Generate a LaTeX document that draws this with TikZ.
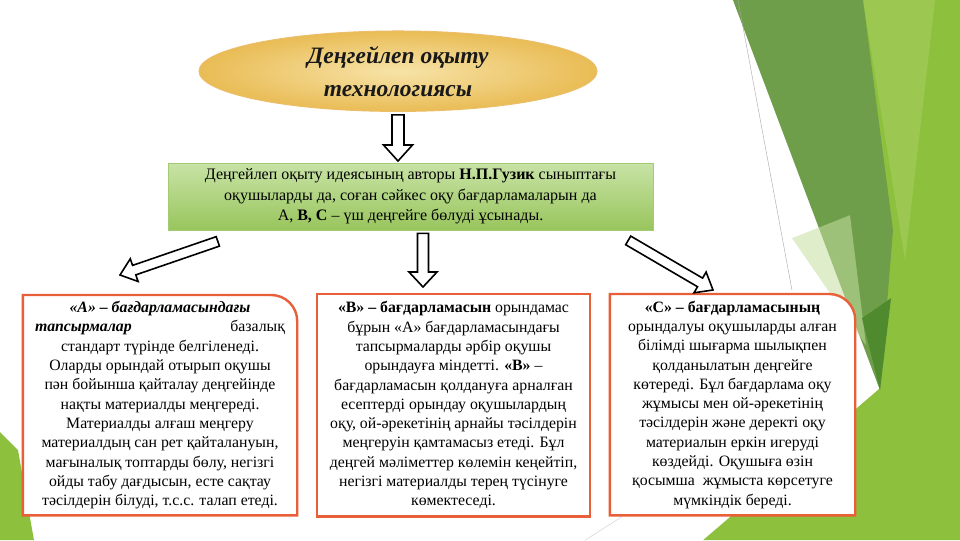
\documentclass[tikz,border=0pt]{standalone}
\usepackage{fontspec}
\setmainfont{Liberation Serif}
\usetikzlibrary{shapes.geometric,calc}

\definecolor{goldin}{HTML}{F7E3A8}
\definecolor{goldout}{HTML}{E9BC55}
\definecolor{goldedge}{HTML}{EDBE6A}
\definecolor{ideatop}{HTML}{C8E3A6}
\definecolor{ideabot}{HTML}{98C55C}
\definecolor{ideaedge}{HTML}{A2CB74}
\definecolor{boxred}{HTML}{E85F38}
\definecolor{bgbright}{HTML}{8DC03C}
\definecolor{bglight}{HTML}{9CC852}
\definecolor{bgmid}{HTML}{6F9E4B}
\definecolor{bgdark}{HTML}{4F8A2E}
\definecolor{bgpale}{HTML}{C6DFA2}

\pgfdeclarelayer{backdrop}
\pgfdeclarelayer{frame}
\pgfsetlayers{backdrop,frame,main}

\newcommand{\hollowarrow}[5]{% tail, tip, shaft half width, head half width, head length
  \coordinate (ha-c) at ($(#2)!#5!(#1)$);
  \draw[blockarrow] ($(#1)!#3!90:(#2)$) -- ($(ha-c)!#3!90:(#2)$) -- ($(ha-c)!#4!90:(#2)$)
    -- (#2) -- ($(ha-c)!#4!-90:(#2)$) -- ($(ha-c)!#3!-90:(#2)$) -- ($(#1)!#3!-90:(#2)$) -- cycle;
}

\begin{document}
\begin{tikzpicture}[x=1pt, y=-1pt,
  blockarrow/.style = {draw=black, line width=1.6pt, fill=white},
  boxline/.style = {draw=boxred, line width=2.4pt, fill=white},
  textbox/.style = {inner sep=0pt, align=center, font=\fontsize{15.8}{19.3}\selectfont}]

  \begin{pgfonlayer}{backdrop}
    \fill[white] (0,0) rectangle (960,540);
    \fill[bgbright] (863,0) -- (960,0) -- (960,540) -- (703,540) -- (880,388) -- cycle;
    \fill[bglight] (863,0) -- (935,0) -- (905,260) -- cycle;
    \fill[bgmid] (733,0) -- (863,0) -- (893,230) -- (880,390) -- cycle;
    \fill[bgpale, opacity=.55] (792,238) -- (850,215) -- (866,345) -- cycle;
    \fill[bgdark] (862,318) -- (891,298) -- (880,390) -- cycle;
    \fill[bgbright] (0,432) -- (18,450) -- (34,540) -- (0,540) -- cycle;
    \draw[gray!70, line width=.4pt] (738,0) -- (792,290);
    \draw[gray!30, line width=.6pt] (585,540) -- (640,505);
  \end{pgfonlayer}
  \useasboundingbox (0,0) rectangle (960,540);

  \node[ellipse, minimum width=398pt, minimum height=78pt, draw=goldedge, line width=1pt,
    inner color=goldin, outer color=goldout, align=center,
    font=\fontsize{23.5}{33}\selectfont\bfseries\itshape, text=black!90] (title) at (398,71)
    {Деңгейлеп оқыту\\технологиясы};

  \node[draw=ideaedge, top color=ideatop, bottom color=ideabot, minimum width=485pt,
    minimum height=67pt, align=center, font=\fontsize{16}{20.5}\selectfont] (idea) at (410.5,196.5)
    {Деңгейлеп оқыту идеясының авторы \textbf{Н.П.Гузик} сыныптағы\\
     оқушыларды да, соған сәйкес оқу бағдарламаларын да\\
     А, \textbf{В, С} – үш деңгейге бөлуді ұсынады.};

  \node[textbox, minimum width=274pt, minimum height=220pt] (boxA) at (160,405)
    {\textbf{\textit{«А» – бағдарламасындағы}}\\
     \makebox[250pt]{\textbf{\textit{тапсырмалар}}\hfill базалық}\\
     стандарт түрінде белгіленеді.\\
     Оларды орындай отырып оқушы\\
     пән бойынша қайталау деңгейінде\\
     нақты материалды меңгереді.\\
     Материалды алғаш меңгеру\\
     материалдың сан рет қайталануын,\\
     мағыналық топтарды бөлу, негізгі\\
     ойды табу дағдысын, есте сақтау\\
     тәсілдерін білуді, т.с.с. талап етеді.};

  \node[textbox, minimum width=273pt, minimum height=222pt] (boxB) at (453.5,405)
    {\textbf{«В» – бағдарламасын} орындамас\\
     бұрын «А» бағдарламасындағы\\
     тапсырмаларды әрбір оқушы\\
     орындауға міндетті. \textbf{«В»} –\\
     бағдарламасын қолдануға арналған\\
     есептерді орындау оқушылардың\\
     оқу, ой-әрекетінің арнайы тәсілдерін\\
     меңгеруін қамтамасыз етеді. Бұл\\
     деңгей мәліметтер көлемін кеңейтіп,\\
     негізгі материалды терең түсінуге\\
     көмектеседі.};

  \node[textbox, minimum width=245pt, minimum height=221pt] (boxC) at (732.5,404.5)
    {\textbf{«С» – бағдарламасының}\\
     орындалуы оқушыларды алған\\
     білімді шығарма шылықпен\\
     қолданылатын деңгейге\\
     көтереді. Бұл бағдарлама оқу\\
     жұмысы мен ой-әрекетінің\\
     тәсілдерін және деректі оқу\\
     материалын еркін игеруді\\
     көздейді. Оқушыға өзін\\
     қосымша\ \ жұмыста көрсетуге\\
     мүмкіндік береді.};

  \begin{pgfonlayer}{frame}
    \draw[boxline] (boxA.south west) -- (boxA.north west) -- ([xshift=-26pt]boxA.north east)
      arc[start angle=90, end angle=0, radius=26pt] -- (boxA.south east) -- cycle;
    \draw[boxline] (boxB.south west) rectangle (boxB.north east);
    \draw[boxline] (boxC.south west) -- (boxC.north west) -- ([xshift=-26pt]boxC.north east)
      arc[start angle=90, end angle=0, radius=26pt] -- (boxC.south east) -- cycle;
  \end{pgfonlayer}

  \coordinate (a1s) at ($(title.south)+(0,3)$);
  \coordinate (a1e) at ($(title.south |- idea.north)+(0,-2)$);
  \coordinate (a2s) at ($(idea.south)+(12.5,3)$);
  \coordinate (a2e) at ($(boxB.north)+(-30.5,-7)$);
  \coordinate (a3s) at ($(idea.south west)+(50,11)$);
  \coordinate (a3e) at ($(boxA.north)+(-40,-20)$);
  \coordinate (a4s) at ($(idea.south east)+(-25,10)$);
  \coordinate (a4e) at ($(boxC.north)+(-19.5,-4)$);

  \hollowarrow{a1s}{a1e}{6pt}{14.5pt}{16pt}
  \hollowarrow{a2s}{a2e}{5.5pt}{14pt}{15pt}
  \hollowarrow{a3s}{a3e}{5pt}{12pt}{15pt}
  \hollowarrow{a4s}{a4e}{5pt}{12pt}{15pt}
\end{tikzpicture}
\end{document}
